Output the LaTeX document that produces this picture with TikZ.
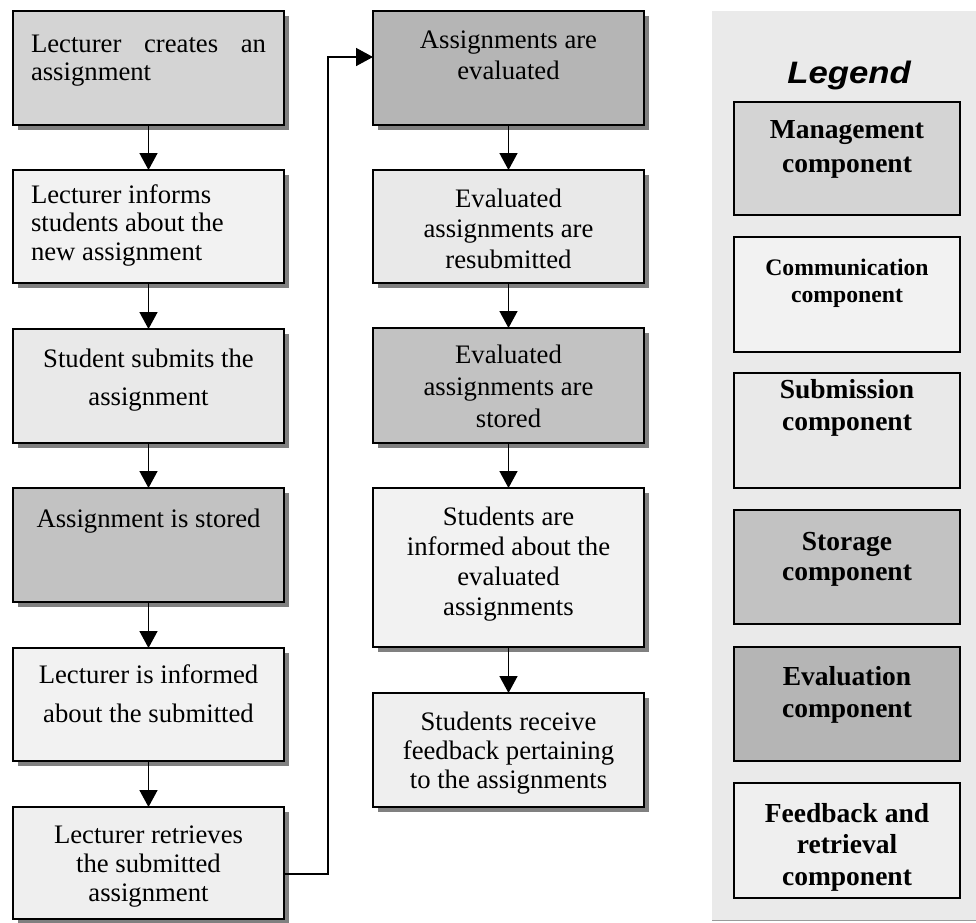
\documentclass[tikz,border=0pt]{standalone}
\usepackage{fontspec}
\setmainfont{Liberation Serif}
\newfontfamily\legendfont{Liberation Sans}
\usetikzlibrary{arrows.meta,shadows}

\definecolor{cMgmt}{HTML}{D4D4D4}
\definecolor{cComm}{HTML}{F2F2F2}
\definecolor{cSubm}{HTML}{E9E9E9}
\definecolor{cStor}{HTML}{C2C2C2}
\definecolor{cEval}{HTML}{B5B5B5}
\definecolor{cFeed}{HTML}{EFEFEF}
\definecolor{cPanel}{HTML}{EAEAEA}
\definecolor{cShadow}{HTML}{808080}
\definecolor{cRule}{HTML}{9A9A9A}

% #1 box height, #2 alignment, #3 first baseline, #4 line distance, #5 text
\newcommand\flowtext[5]{\parbox[c][#1][t]{235pt}{#2\fontsize{26.7pt}{#4}\selectfont\rule{0pt}{#3}#5\par}}
% #1 box height, #2 font size, #3 line distance, #4 first baseline, #5 text
\newcommand\keytext[5]{\parbox[c][#1][t]{210pt}{\centering\bfseries\fontsize{#2}{#3}\selectfont\rule{0pt}{#4}#5\par}}

\begin{document}
\begin{tikzpicture}[x=1pt,y=-1pt,
  flowbox/.style={draw, line width=1.8pt, inner xsep=18pt, inner ysep=0pt, outer sep=0pt,
    anchor=north west,
    drop shadow={shadow xshift=5pt, shadow yshift=-5pt, fill=cShadow, opacity=1}},
  keybox/.style={draw, line width=1.8pt, inner xsep=8pt, inner ysep=0pt, outer sep=0pt,
    anchor=north west},
  flow/.style={line width=1.5pt, -{Triangle[width=18pt,length=17pt]}},
]
\useasboundingbox (0,0) rectangle (976,922);

% legend panel
\fill[cPanel] (712,11) rectangle (976,921);
\draw[line width=1pt, cRule] (712,920.5) -- (976,920.5);

% left column
\node[flowbox, fill=cMgmt] (b1) at (13,11)
  {\flowtext{114pt}{\raggedright}{41pt}{28pt}{\makebox[\linewidth][s]{Lecturer creates an}\\assignment}};
\node[flowbox, fill=cComm] (b2) at (13,170)
  {\flowtext{113pt}{\raggedright}{33pt}{28.5pt}{Lecturer informs\\students about the\\new assignment}};
\node[flowbox, fill=cSubm] (b3) at (13,329)
  {\flowtext{114pt}{\centering}{38pt}{38pt}{Student submits the\\assignment}};
\node[flowbox, fill=cStor] (b4) at (13,488)
  {\flowtext{114pt}{\centering}{39pt}{29pt}{Assignment is stored}};
\node[flowbox, fill=cComm] (b5) at (13,648)
  {\flowtext{113pt}{\centering}{35pt}{39pt}{Lecturer is informed\\about the submitted}};
\node[flowbox, fill=cFeed] (b6) at (13,807)
  {\flowtext{112pt}{\centering}{36pt}{29pt}{Lecturer retrieves\\the submitted\\assignment}};

% middle column
\node[flowbox, fill=cEval] (m1) at (373,11)
  {\flowtext{114pt}{\centering}{37pt}{31pt}{Assignments are\\evaluated}};
\node[flowbox, fill=cSubm] (m2) at (373,170)
  {\flowtext{113pt}{\centering}{37pt}{30.5pt}{Evaluated\\assignments are\\resubmitted}};
\node[flowbox, fill=cStor] (m3) at (373,328)
  {\flowtext{115pt}{\centering}{35pt}{32pt}{Evaluated\\assignments are\\stored}};
\node[flowbox, fill=cComm] (m4) at (373,488)
  {\flowtext{159pt}{\centering}{37pt}{30pt}{Students are\\informed about the\\evaluated\\assignments}};
\node[flowbox, fill=cFeed] (m5) at (373,693)
  {\flowtext{114pt}{\centering}{37pt}{29pt}{Students receive\\feedback pertaining\\to the assignments}};

% connectors
\draw[flow] (b1) -- (b2);
\draw[flow] (b2) -- (b3);
\draw[flow] (b3) -- (b4);
\draw[flow] (b4) -- (b5);
\draw[flow] (b5) -- (b6);
\draw[flow] (m1) -- (m2);
\draw[flow] (m2) -- (m3);
\draw[flow] (m3) -- (m4);
\draw[flow] (m4) -- (m5);
\coordinate (loopLow) at (328,874);
\coordinate (loopHigh) at (328,57);
\draw[flow] (b6.east |- loopLow) -- (loopLow) -- (loopHigh) -- (m1.west |- loopHigh);

% legend
\node[font=\legendfont\bfseries\itshape\fontsize{31pt}{31pt}\selectfont, anchor=base]
  (legendtitle) at (849,83) {\scalebox{1.12}[1]{Legend}};
\node[keybox, fill=cMgmt] (l1) at (734,102)
  {\keytext{113pt}{27.5pt}{34pt}{36pt}{Management\\component}};
\node[keybox, fill=cComm] (l2) at (734,237)
  {\keytext{115pt}{23.7pt}{27pt}{38pt}{Communication\\component}};
\node[keybox, fill=cSubm] (l3) at (734,373)
  {\keytext{115pt}{27.5pt}{32pt}{25pt}{Submission\\component}};
\node[keybox, fill=cStor] (l4) at (734,510)
  {\keytext{114pt}{27.5pt}{30pt}{40pt}{Storage\\component}};
\node[keybox, fill=cEval] (l5) at (734,647)
  {\keytext{114pt}{27.5pt}{32pt}{38pt}{Evaluation\\component}};
\node[keybox, fill=cFeed] (l6) at (734,783)
  {\keytext{115pt}{27.5pt}{31.5pt}{39pt}{Feedback and\\retrieval\\component}};
\end{tikzpicture}
\end{document}
